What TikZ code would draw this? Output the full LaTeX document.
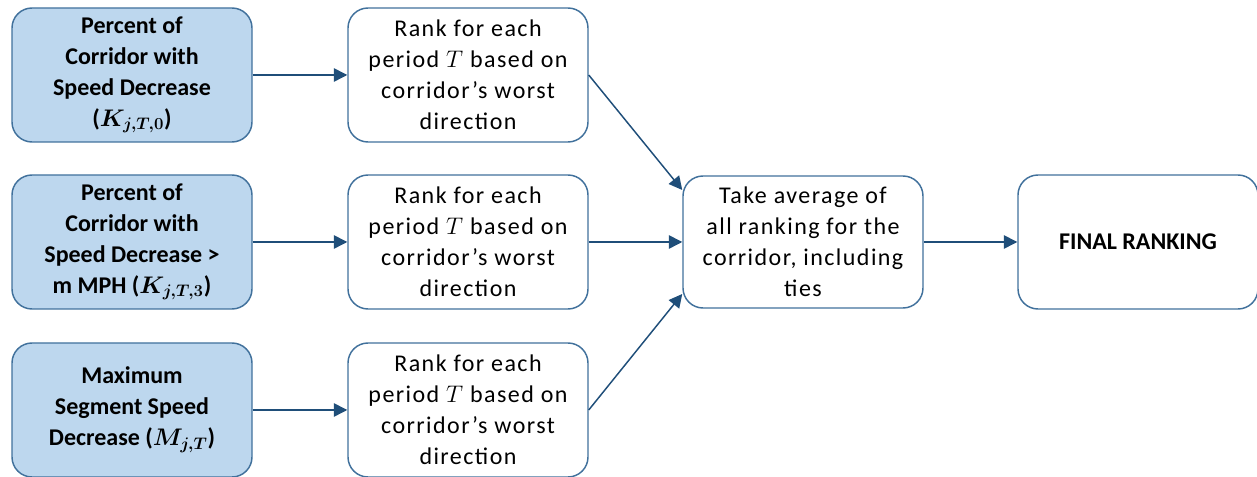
\documentclass[tikz,border=0pt]{standalone}
\usepackage{fix-cm}
\usepackage{bm}
\usepackage{fontspec}
\setmainfont{Carlito}
\newfontfamily\rankfont{Carlito}[LetterSpace=6]
\usetikzlibrary{arrows.meta}
\definecolor{boxfill}{RGB}{189,215,238}
\definecolor{boxline}{RGB}{65,113,156}
\definecolor{arrowcol}{RGB}{31,78,121}
\begin{document}
\begin{tikzpicture}[x=0.75pt,y=0.75pt,
        metric/.style={draw=boxline,line width=1.1pt,rounded corners=15pt,fill=boxfill,
            minimum width=180pt,minimum height=100.5pt,align=center,
            font=\fontsize{18}{23.25}\selectfont\bfseries},
        rankbox/.style={metric,fill=white,font=\fontsize{18}{23.25}\selectfont\rankfont},
        flow/.style={draw=arrowcol,line width=1.1pt,-{Triangle[length=10pt,width=10pt]}}]
                \useasboundingbox (0,0) rectangle (1257,477);
                %% metrics
                \node[metric] (K0) at (132,402) {Percent of\\Corridor with\\Speed Decrease\\($\bm{K_{j,T,0}}$)};
                \node[metric] (K3) at (132,235) {Percent of\\Corridor with\\Speed Decrease >\\m MPH ($\bm{K_{j,T,3}}$)};
                \node[metric] (M) at (132,67) {Maximum\\Segment Speed\\Decrease ($\bm{M_{j,T}}$)};
                %% ranks
                \node[rankbox] (R0) at (468,402) {Rank for each\\period $T$ based on\\corridor’s worst\\direction};
                \node[rankbox] (R3) at (468,235) {Rank for each\\period $T$ based on\\corridor’s worst\\direction};
                \node[rankbox] (RM) at (468,67) {Rank for each\\period $T$ based on\\corridor’s worst\\direction};
                %% average and result
                \node[rankbox,minimum height=99pt] (avg) at (803,235) {Take average of\\all ranking for the\\corridor, including\\ties};
                \node[metric,fill=white] (final) at (1138,235) {FINAL RANKING};
                %% arrows
                \draw[flow] (K0) -- (R0);
                \draw[flow] (K3) -- (R3);
                \draw[flow] (M) -- (RM);
                \draw[flow] (R0.east) -- ([yshift=39pt]avg.west);
                \draw[flow] (R3) -- (avg);
                \draw[flow] (RM.east) -- ([yshift=-39pt]avg.west);
                \draw[flow] (avg) -- (final);
            \end{tikzpicture}
\end{document}
